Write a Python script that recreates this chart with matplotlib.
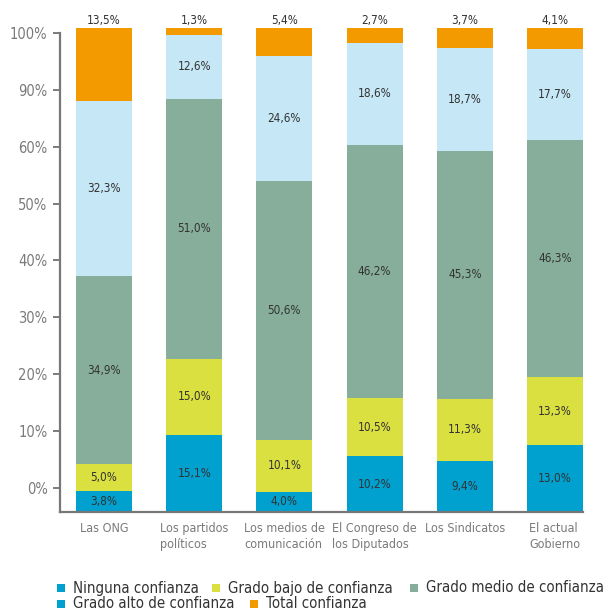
import numpy as np
import matplotlib.pyplot as plt
from matplotlib import font_manager
from matplotlib.patches import Rectangle

# prefer a narrow face when one is installed
narrow = [f for f in font_manager.fontManager.ttflist
          if 'Narrow' in f.name or 'Condensed' in f.name
          or (str(f.stretch) in ('condensed', 'semi-condensed', '600', '700') and f.style == 'normal'
              and f.weight in (400, 'normal', 'regular'))]
narrow = [f for f in narrow if f.style == 'normal' and f.weight in (400, 'normal', 'regular')]
if narrow:
    font_file = narrow[0]
    plt.rcParams['font.family'] = [font_file.name, 'DejaVu Sans']
    plt.rcParams['font.stretch'] = font_file.stretch
else:
    plt.rcParams['font.family'] = ['Roboto', 'DejaVu Sans']

categories = ['Las ONG', 'Los partidos\npolíticos', 'Los medios de\ncomunicación',
              'El Congreso de\nlos Diputados', 'Los Sindicatos', 'El actual\nGobierno']
series_names = ['Ninguna confianza', 'Grado bajo de confianza', 'Grado medio de confianza',
                'Grado alto de confianza', 'Total confianza']
ninguna = [3.8, 15.1, 4.0, 10.2, 9.4, 13.0]
bajo = [5.0, 15.0, 10.1, 10.5, 11.3, 13.3]
medio = [34.9, 51.0, 50.6, 46.2, 45.3, 46.3]
alto = [32.3, 12.6, 24.6, 18.6, 18.7, 17.7]
total = [13.5, 1.3, 5.4, 2.7, 3.7, 4.1]
tick_labels = ['0%', '10%', '20%', '30%', '40%', '50%', '60%', '90%', '100%']

colors = ['#00a0cf', '#dbe041', '#86ae9b', '#c6e8f6', '#f39a00']
legend_colors = ['#00a0cf', '#dbe041', '#86ae9b', '#00a0cf', '#f39a00']

series = np.array([ninguna, bajo, medio, alto, total])
shares = series / series.sum(axis=0) * 100  # each bar stacked to full height

fig = plt.figure(figsize=(6.03, 6.12), dpi=100)
ax = fig.add_axes([60 / 603, 1 - 512 / 612, 523 / 603, 484 / 612])

x = np.arange(len(categories))
bottom = np.zeros(len(categories))
for k in range(len(series)):
    ax.bar(x, shares[k], 0.62, bottom=bottom, color=colors[k], linewidth=0)
    for i in range(len(categories)):
        label = f'{series[k, i]:.1f}%'.replace('.', ',')
        if k == len(series) - 1:
            ax.text(x[i], 100.3, label, ha='center', va='bottom',
                    fontsize=8.5, color='#333333')
        else:
            ax.text(x[i], bottom[i] + shares[k, i] / 2, label, ha='center',
                    va='center', fontsize=8.5, color='#333333')
    bottom += shares[k]

ax.set_xlim(-0.488, 5.31)
ax.set_ylim(0, 100)

ticks = np.linspace(5.06, 98.9, len(tick_labels))
ax.set_yticks(ticks)
ax.set_yticklabels(tick_labels, fontsize=10.5, color='#7a7a7a')
ax.tick_params(axis='y', length=5, width=1.2, color='#666666', pad=4)
ax.set_xticks([])
for i, name in enumerate(categories):
    ax.text(x[i], -2.0, name, ha='center', va='top', multialignment='left',
            fontsize=9, color='#7a7a7a', linespacing=1.3)

for side in ['top', 'right']:
    ax.spines[side].set_visible(False)
for side in ['left', 'bottom']:
    ax.spines[side].set_color('#777777')
    ax.spines[side].set_linewidth(1.6)
ax.spines['left'].set_bounds(0, 98.9)

# legend laid out in two free-flowing rows
legend_pos = [(61, 588), (216, 588), (414, 588), (61, 604), (254, 604)]
for (px, py), name, c in zip(legend_pos, series_names, legend_colors):
    fig.patches.append(Rectangle(((px - 4) / 603, 1 - (py + 4) / 612), 8 / 603, 8 / 612,
                                 transform=fig.transFigure, color=c, linewidth=0))
    fig.text((px + 12) / 603, 1 - py / 612, name, ha='left', va='center',
             fontsize=10.8, color='#333333')

fig.savefig('out.png', dpi=100)
